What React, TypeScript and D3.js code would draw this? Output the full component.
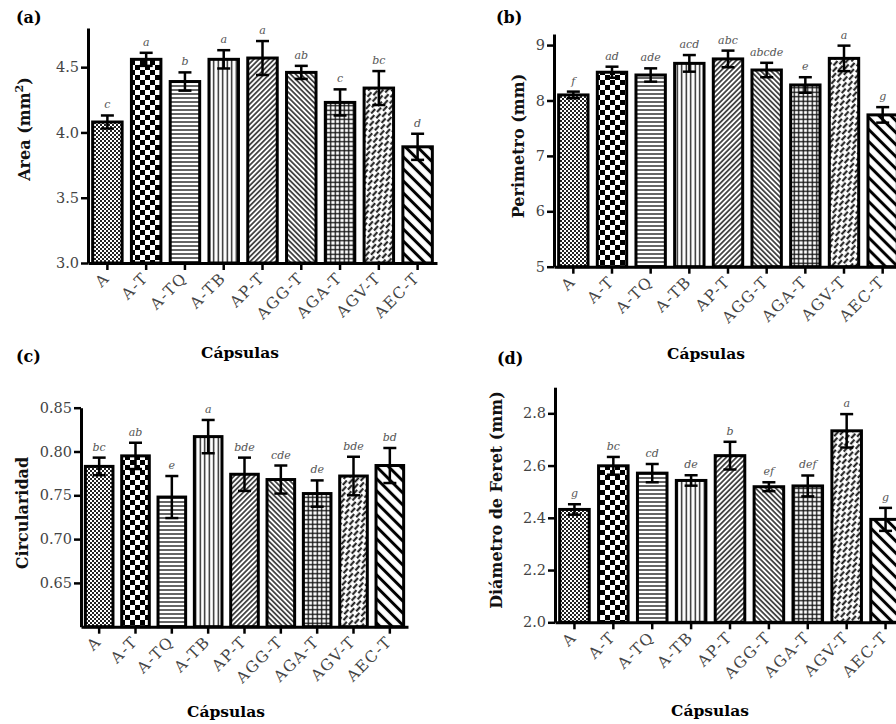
import React, { useEffect, useRef } from "react";
import * as d3 from "d3";

const categories = ["A", "A-T", "A-TQ", "A-TB", "AP-T", "AGG-T", "AGA-T", "AGV-T", "AEC-T"];

const areaMean = [4.08, 4.56, 4.39, 4.56, 4.57, 4.46, 4.23, 4.34, 3.89];
const areaErr = [0.05, 0.05, 0.07, 0.07, 0.13, 0.05, 0.1, 0.13, 0.1];
const areaLetters = ["c", "a", "b", "a", "a", "ab", "c", "bc", "d"];
const areaTicks = [3.0, 3.5, 4.0, 4.5];

const perimMean = [8.1, 8.51, 8.46, 8.67, 8.75, 8.55, 8.28, 8.76, 7.74];
const perimErr = [0.06, 0.1, 0.12, 0.15, 0.15, 0.13, 0.14, 0.23, 0.14];
const perimLetters = ["f", "ad", "ade", "acd", "abc", "abcde", "e", "a", "g"];
const perimTicks = [5, 6, 7, 8, 9];

const circMean = [0.783, 0.795, 0.748, 0.817, 0.774, 0.768, 0.752, 0.772, 0.784];
const circErr = [0.01, 0.015, 0.024, 0.019, 0.019, 0.016, 0.015, 0.022, 0.02];
const circLetters = ["bc", "ab", "e", "a", "bde", "cde", "de", "bde", "bd"];
const circTicks = [0.65, 0.7, 0.75, 0.8, 0.85];

const feretMean = [2.432, 2.599, 2.571, 2.543, 2.638, 2.519, 2.522, 2.733, 2.394];
const feretErr = [0.02, 0.034, 0.035, 0.02, 0.053, 0.017, 0.04, 0.064, 0.044];
const feretLetters = ["g", "bc", "cd", "de", "b", "ef", "def", "a", "g"];
const feretTicks = [2.0, 2.2, 2.4, 2.6, 2.8];

const SERIF = "'DejaVu Serif', serif";

interface Panel {
  tag: string;
  yTitle: string;
  sup?: string;
  mean: number[];
  err: number[];
  letters: string[];
  ticks: number[];
  fmt: string;
  domain: [number, number];
  x0: number;
  x1: number;
  yTop: number;
  yBot: number;
  tagPos: [number, number];
  titlePos: [number, number];
  capsPos: [number, number];
}

const panels: Panel[] = [
  {
    tag: "(a)", yTitle: "Area (mm", sup: "2", mean: areaMean, err: areaErr, letters: areaLetters,
    ticks: areaTicks, fmt: ".1f", domain: [3.0, 4.8], x0: 88, x1: 437, yTop: 28, yBot: 263,
    tagPos: [16, 23], titlePos: [30, 129], capsPos: [240, 358],
  },
  {
    tag: "(b)", yTitle: "Perimetro (mm)", mean: perimMean, err: perimErr, letters: perimLetters,
    ticks: perimTicks, fmt: "d", domain: [5, 9.2], x0: 554, x1: 902, yTop: 34, yBot: 266.7,
    tagPos: [496, 23], titlePos: [524, 146], capsPos: [706, 359],
  },
  {
    tag: "(c)", yTitle: "Circularidad", mean: circMean, err: circErr, letters: circLetters,
    ticks: circTicks, fmt: ".2f", domain: [0.6, 0.85], x0: 81, x1: 408, yTop: 407.7, yBot: 626.7,
    tagPos: [16, 362], titlePos: [28, 513], capsPos: [226, 717],
  },
  {
    tag: "(d)", yTitle: "Diámetro de Feret (mm)", mean: feretMean, err: feretErr, letters: feretLetters,
    ticks: feretTicks, fmt: ".1f", domain: [2.0, 2.9], x0: 555, x1: 905, yTop: 387.2, yBot: 622.3,
    tagPos: [497, 364], titlePos: [502, 500], capsPos: [710, 716],
  },
];

function Patterns() {
  return (
    <defs>
      <pattern id="p0" patternUnits="userSpaceOnUse" width={4} height={4}>
        <rect width={4} height={4} fill="#fff" />
        <rect width={2} height={2} fill="#222" />
        <rect x={2} y={2} width={2} height={2} fill="#222" />
      </pattern>
      <pattern id="p1" patternUnits="userSpaceOnUse" width={10} height={10}>
        <rect width={10} height={10} fill="#fff" />
        <rect width={5} height={5} fill="#000" />
        <rect x={5} y={5} width={5} height={5} fill="#000" />
      </pattern>
      <pattern id="p2" patternUnits="userSpaceOnUse" width={4} height={4}>
        <rect width={4} height={4} fill="#fff" />
        <line x1={0} x2={4} y1={2} y2={2} stroke="#111" strokeWidth={1.3} />
      </pattern>
      <pattern id="p3" patternUnits="userSpaceOnUse" width={4.5} height={4.5}>
        <rect width={4.5} height={4.5} fill="#fff" />
        <line y1={0} y2={4.5} x1={2.25} x2={2.25} stroke="#111" strokeWidth={1.3} />
      </pattern>
      <pattern id="p4" patternUnits="userSpaceOnUse" width={3.6} height={4} patternTransform="rotate(45)">
        <rect width={3.6} height={4} fill="#fff" />
        <line y1={0} y2={4} x1={1.8} x2={1.8} stroke="#111" strokeWidth={1.4} />
      </pattern>
      <pattern id="p5" patternUnits="userSpaceOnUse" width={3.6} height={4} patternTransform="rotate(-45)">
        <rect width={3.6} height={4} fill="#fff" />
        <line y1={0} y2={4} x1={1.8} x2={1.8} stroke="#111" strokeWidth={1.4} />
      </pattern>
      <pattern id="p6" patternUnits="userSpaceOnUse" width={4.5} height={4.5}>
        <rect width={4.5} height={4.5} fill="#fff" />
        <line y1={0} y2={4.5} x1={2.25} x2={2.25} stroke="#111" strokeWidth={1.3} />
        <line x1={0} x2={4.5} y1={2.25} y2={2.25} stroke="#111" strokeWidth={1.3} />
      </pattern>
      <pattern id="p7" patternUnits="userSpaceOnUse" width={7} height={10} patternTransform="rotate(42)">
        <rect width={7} height={10} fill="#fff" />
        <line x1={1.75} x2={1.75} y1={0} y2={6} stroke="#111" strokeWidth={2} />
        <line x1={5.25} x2={5.25} y1={5} y2={10} stroke="#111" strokeWidth={2} />
        <line x1={5.25} x2={5.25} y1={0} y2={1} stroke="#111" strokeWidth={2} />
      </pattern>
      <pattern id="p8" patternUnits="userSpaceOnUse" width={8.5} height={8.5} patternTransform="rotate(-45)">
        <rect width={8.5} height={8.5} fill="#fff" />
        <line y1={0} y2={8.5} x1={4.25} x2={4.25} stroke="#000" strokeWidth={3} />
      </pattern>
    </defs>
  );
}

function App() {
  const gRef = useRef<SVGGElement | null>(null);

  useEffect(() => {
    const root = d3.select(gRef.current);
    root.selectAll("*").remove();

    panels.forEach((p) => {
      const g = root.append("g");
      const x = d3.scaleBand<string>().domain(categories).range([p.x0, p.x1]).paddingInner(0.24).paddingOuter(0.12);
      const y = d3.scaleLinear().domain(p.domain).range([p.yBot, p.yTop]);
      const fmt = d3.format(p.fmt);

      // bars
      g.selectAll("rect.bar")
        .data(categories)
        .enter()
        .append("rect")
        .attr("class", "bar")
        .attr("x", (d) => x(d) as number)
        .attr("width", x.bandwidth())
        .attr("y", (_, i) => y(p.mean[i]))
        .attr("height", (_, i) => y(p.domain[0]) - y(p.mean[i]))
        .attr("fill", (_, i) => `url(#p${i})`)
        .attr("stroke", "#000")
        .attr("stroke-width", 3);

      // error bars + letters
      const cap = 6.5;
      categories.forEach((c, i) => {
        const cx = (x(c) as number) + x.bandwidth() / 2;
        const hi = y(p.mean[i] + p.err[i]);
        const lo = y(p.mean[i] - p.err[i]);
        g.append("line").attr("x1", cx).attr("x2", cx).attr("y1", hi).attr("y2", lo)
          .attr("stroke", "#000").attr("stroke-width", 2.5);
        [hi, lo].forEach((yy) => {
          g.append("line").attr("x1", cx - cap).attr("x2", cx + cap).attr("y1", yy).attr("y2", yy)
            .attr("stroke", "#000").attr("stroke-width", 2.5);
        });
        g.append("text")
          .attr("x", cx)
          .attr("y", hi - 7)
          .attr("text-anchor", "middle")
          .attr("font-family", SERIF)
          .attr("font-style", "italic")
          .attr("font-size", 11)
          .attr("fill", "#555")
          .text(p.letters[i]);
      });

      // y axis
      const yAxis = d3.axisLeft(y).tickValues(p.ticks).tickSize(7).tickSizeOuter(0).tickPadding(2)
        .tickFormat((d) => fmt(d as number));
      const ya = g.append("g").attr("transform", `translate(${p.x0},0)`).call(yAxis);
      ya.select(".domain").attr("stroke", "#000").attr("stroke-width", 3);
      ya.selectAll(".tick line").attr("stroke", "#000").attr("stroke-width", 2.5);
      ya.selectAll(".tick text").attr("font-family", SERIF).attr("font-size", 14.5).attr("fill", "#444");

      // x axis
      const xAxis = d3.axisBottom(x).tickSize(7).tickSizeOuter(0);
      const xa = g.append("g").attr("transform", `translate(0,${p.yBot})`).call(xAxis);
      xa.select(".domain").attr("stroke", "#000").attr("stroke-width", 3);
      xa.selectAll(".tick line").attr("stroke", "#000").attr("stroke-width", 2.5);
      xa.selectAll(".tick text")
        .attr("font-family", SERIF)
        .attr("font-size", 15.5)
        .attr("letter-spacing", 1.4)
        .attr("fill", "#444")
        .attr("text-anchor", "end")
        .attr("dy", null)
        .attr("y", 0)
        .attr("transform", "translate(3,16) rotate(-45)");

      // titles
      g.append("text")
        .attr("x", p.tagPos[0]).attr("y", p.tagPos[1])
        .attr("font-family", SERIF).attr("font-weight", "bold").attr("font-size", 16)
        .text(p.tag);

      g.append("text")
        .attr("x", p.capsPos[0]).attr("y", p.capsPos[1])
        .attr("text-anchor", "middle")
        .attr("font-family", SERIF).attr("font-weight", "bold").attr("font-size", 15.5)
        .text("Cápsulas");

      const yt = g.append("text")
        .attr("transform", `translate(${p.titlePos[0]},${p.titlePos[1]}) rotate(-90)`)
        .attr("text-anchor", "middle")
        .attr("font-family", SERIF).attr("font-weight", "bold").attr("font-size", 16)
        .attr("fill", "#111");
      yt.append("tspan").text(p.yTitle);
      if (p.sup) {
        yt.append("tspan").attr("font-size", 11).attr("dy", -7).text(p.sup);
        yt.append("tspan").attr("dy", 7).text(")");
      }
    });
  }, []);

  return (
    <svg width={896} height={724} style={{ position: "absolute", left: 0, top: 0, background: "#fff" }}>
      <Patterns />
      <rect width={896} height={724} fill="#fff" />
      <g ref={gRef} />
    </svg>
  );
}

export default App;
